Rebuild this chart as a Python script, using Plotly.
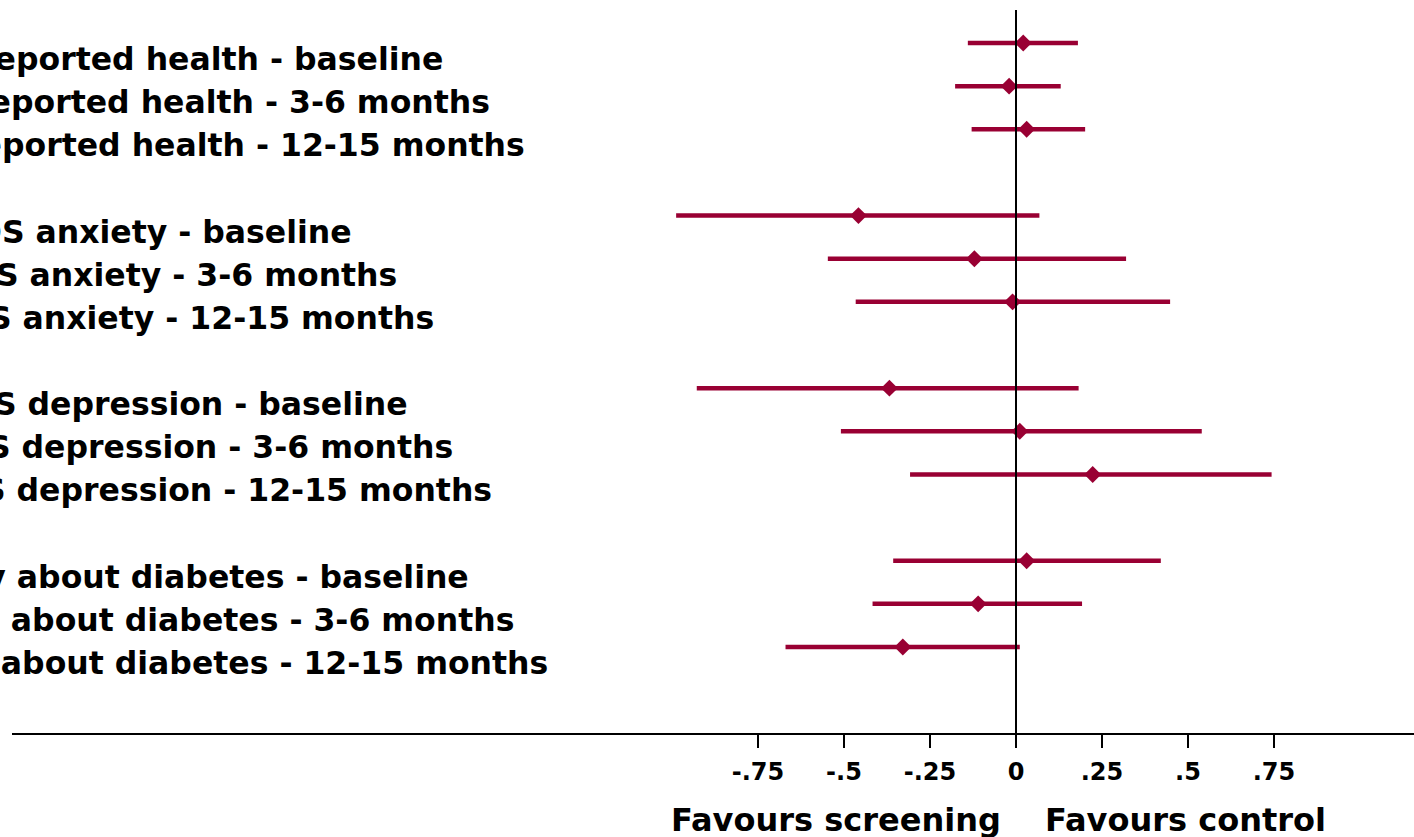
import plotly.graph_objects as go

# ---- data ----
outcomes = ["Self-reported health", "HADS anxiety", "HADS depression", "Worry about diabetes"]
timepoints = ["baseline", "3-6 months", "12-15 months"]

estimate = [0.021, -0.020, 0.031,
            -0.458, -0.121, -0.010,
            -0.368, 0.011, 0.223,
            0.031, -0.110, -0.329]
lower = [-0.140, -0.177, -0.129,
         -0.988, -0.547, -0.466,
         -0.928, -0.509, -0.308,
         -0.357, -0.417, -0.670]
upper = [0.180, 0.130, 0.201,
         0.068, 0.320, 0.448,
         0.182, 0.540, 0.743,
         0.421, 0.192, 0.011]

tick_vals = [-0.75, -0.5, -0.25, 0, 0.25, 0.5, 0.75]
tick_text = ["-.75", "-.5", "-.25", "0", ".25", ".5", ".75"]

labels = [f"{o} - {t}" for o in outcomes for t in timepoints]

# ---- layout constants ----
W, H = 1414, 837
ML, MR, MT, MB = 12, 0, 10, 104
x_zero_px = 1016
px_per_unit = 344
x_range = [(ML - x_zero_px) / px_per_unit, (W - MR - x_zero_px) / px_per_unit]
y_range = [16.993, 0.235]

rows = [g * 4 + k + 1 for g in range(len(outcomes)) for k in range(len(timepoints))]
# right edge (pixels) of each label text
label_right_px = [437, 484, 519, 345, 390, 428, 401, 447, 486, 463, 508, 543]

color = "#990033"
font_family = "DejaVu Sans, Verdana, sans-serif"

fig = go.Figure()
fig.add_trace(go.Scatter(
    x=estimate, y=rows, mode="markers",
    marker=dict(symbol="diamond", size=13, color=color),
    error_x=dict(type="data", symmetric=False,
                 array=[u - e for u, e in zip(upper, estimate)],
                 arrayminus=[e - l for e, l in zip(estimate, lower)],
                 color=color, thickness=4.5, width=0),
    hoverinfo="skip", showlegend=False,
))

# zero line
fig.add_shape(type="line", xref="x", yref="paper", x0=0, x1=0, y0=0, y1=1,
              line=dict(color="black", width=2))

for lab, r, px in zip(labels, rows, label_right_px):
    fig.add_annotation(text=lab, x=px / W, xref="paper", y=r, yref="y",
                       xanchor="right", yanchor="middle", yshift=-16,
                       showarrow=False,
                       font=dict(family=font_family, size=31.5, color="black", weight="bold"))

fig.add_annotation(text="Favours screening", x=999 / W, xref="paper", y=-0.12, yref="paper",
                   xanchor="right", yanchor="middle", showarrow=False,
                   font=dict(family=font_family, size=32, color="black", weight="bold"))
fig.add_annotation(text="Favours control", x=1040 / W, xref="paper", y=-0.12, yref="paper",
                   xanchor="left", yanchor="middle", showarrow=False,
                   font=dict(family=font_family, size=32, color="black", weight="bold"))

fig.update_layout(
    width=W, height=H,
    margin=dict(l=ML, r=MR, t=MT, b=MB),
    paper_bgcolor="white", plot_bgcolor="white",
    xaxis=dict(range=x_range, tickvals=tick_vals, ticktext=tick_text,
               showline=True, linecolor="black", linewidth=2,
               ticks="outside", ticklen=13, tickwidth=2, tickcolor="black",
               ticklabelstandoff=3,
               showgrid=False, zeroline=False, fixedrange=True,
               tickfont=dict(family=font_family, size=24, color="black", weight="bold")),
    yaxis=dict(range=y_range, visible=False, showgrid=False, zeroline=False, fixedrange=True),
)

fig.write_html("out.html", config={"displayModeBar": False},
               post_script="document.body.style.margin='0';document.body.style.overflow='hidden';")
